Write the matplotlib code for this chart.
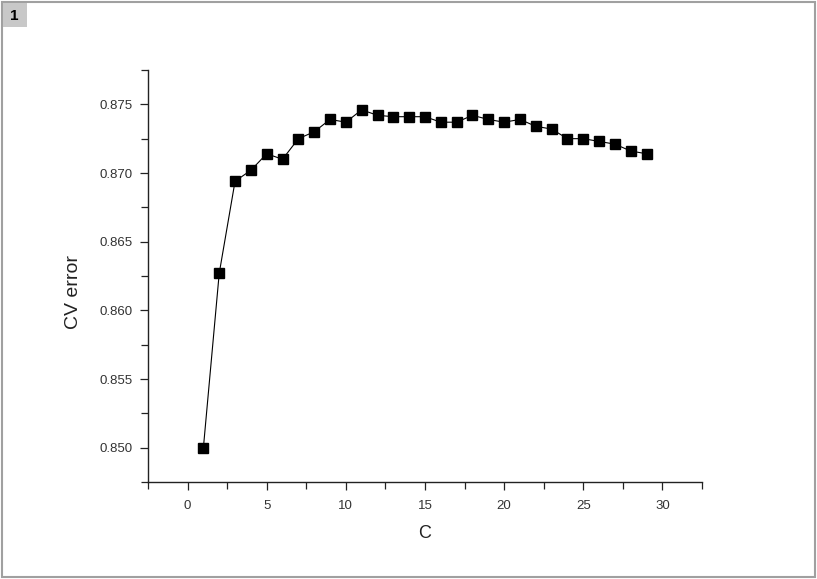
import matplotlib
matplotlib.use("Agg")
import matplotlib.pyplot as plt
from matplotlib.patches import Rectangle
from matplotlib.ticker import MultipleLocator, FormatStrFormatter

plt.rcParams['font.family'] = ['Liberation Sans', 'DejaVu Sans']

c_values = list(range(1, 30))
cv_error = [0.8500, 0.8627, 0.8694, 0.8702, 0.8714, 0.8710, 0.8725, 0.8730,
            0.8739, 0.8737, 0.8746, 0.8742, 0.8741, 0.8741, 0.8741, 0.8737,
            0.8737, 0.8742, 0.8739, 0.8737, 0.8739, 0.8734, 0.8732, 0.8725,
            0.8725, 0.8723, 0.8721, 0.8716, 0.8714]

W, H = 817, 579
fig = plt.figure(figsize=(W / 100, H / 100), dpi=100)
fig.patch.set_facecolor('white')

# outer frame and page number box
fig.patches.append(Rectangle((1.5 / W, 2.5 / H), (W - 4) / W, (H - 4) / H,
                             transform=fig.transFigure, facecolor='none',
                             edgecolor='#a0a0a0', linewidth=1.5))
fig.patches.append(Rectangle((3 / W, 1 - 27 / H), 24 / W, 24 / H,
                             transform=fig.transFigure, facecolor='#c8c8c8',
                             edgecolor='none'))
fig.text(14 / W, 1 - 16 / H, '1', ha='center', va='center', fontsize=11,
         fontweight='bold', color='black')

ax = fig.add_axes([148 / W, 1 - 482 / H, (702 - 148) / W, (482 - 70) / H])
ax.plot(c_values, cv_error, color='black', linewidth=0.8, marker='s',
        markersize=7.4, markerfacecolor='black', markeredgecolor='black')

ax.set_xlim(-2.5, 32.5)
ax.set_ylim(0.8475, 0.8775)
ax.xaxis.set_major_locator(MultipleLocator(5))
ax.xaxis.set_minor_locator(MultipleLocator(2.5))
ax.yaxis.set_major_locator(MultipleLocator(0.005))
ax.yaxis.set_minor_locator(MultipleLocator(0.0025))
ax.yaxis.set_major_formatter(FormatStrFormatter('%.3f'))

for s in ['top', 'right']:
    ax.spines[s].set_visible(False)
for s in ['left', 'bottom']:
    ax.spines[s].set_linewidth(1.0)
    ax.spines[s].set_color('#222222')

ax.tick_params(which='major', direction='out', length=6, width=0.9,
               colors='#222222', labelsize=9.5, labelcolor='#333333')
ax.tick_params(axis='x', which='major', pad=7)
ax.tick_params(axis='y', which='major', pad=5)
ax.tick_params(which='minor', direction='out', length=5, width=0.9,
               colors='#222222')

fig.text(425 / W, 1 - 533 / H, 'C', ha='center', va='center', fontsize=13,
         color='#222222')
fig.text(73 / W, 1 - 292 / H, 'CV error', ha='center', va='center',
         rotation=90, fontsize=14, color='#222222')

fig.savefig('out.png', dpi=100, facecolor='white')
